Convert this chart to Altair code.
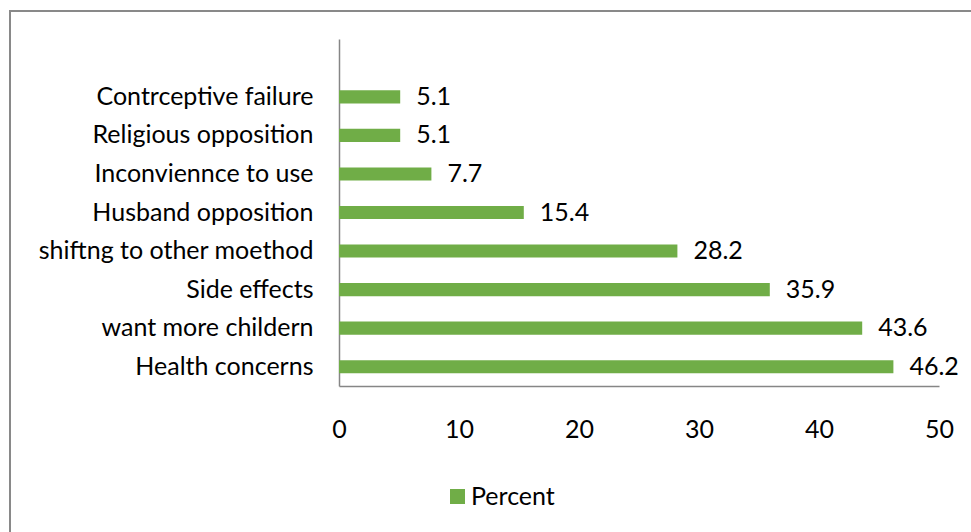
import altair as alt
import pandas as pd

categories = [
    "Contrceptive failure",
    "Religious opposition",
    "Inconviennce to use",
    "Husband opposition",
    "shiftng to other moethod",
    "Side effects",
    "want more childern",
    "Health concerns\u00a0",
]
values = [5.1, 5.1, 7.7, 15.4, 28.2, 35.9, 43.6, 46.2]
series_name = "Percent"
x_ticks = [0, 10, 20, 30, 40, 50]

df = pd.DataFrame({"category": categories, "value": values, "series": [series_name] * len(categories)})

FONT = "Lato"
FS = 25
GREEN = "#70AD47"
GREY = "#868686"

y_domain = [""] + categories

x_enc = alt.X(
    "value:Q",
    scale=alt.Scale(domain=[0, 50]),
    axis=alt.Axis(values=x_ticks, title=None, grid=False, ticks=False,
                  domainColor=GREY, domainWidth=1.5, labelFont=FONT,
                  labelFontSize=FS, labelPadding=31, labelColor="black",
                  labelFlush=False),
)
y_enc = alt.Y(
    "category:N",
    scale=alt.Scale(domain=y_domain, paddingInner=0.66, paddingOuter=0.33),
    axis=alt.Axis(title=None, ticks=False, grid=False, domainColor=GREY,
                  domainWidth=1.5, labelFont=FONT, labelFontSize=FS,
                  labelPadding=26, labelColor="black", labelLimit=400),
)

border = alt.Chart(pd.DataFrame({"k": [0]})).mark_rect(
    fill="white", fillOpacity=0, stroke="#898989", strokeWidth=2
).encode(x=alt.value(-329), y=alt.value(-28), x2=alt.value(800), y2=alt.value(800))

bars = alt.Chart(df).mark_bar().encode(
    x=x_enc,
    y=y_enc,
    color=alt.Color(
        "series:N",
        scale=alt.Scale(domain=[series_name], range=[GREEN]),
        legend=alt.Legend(title=None, orient="none", legendX=106, legendY=445,
                          symbolType="square", symbolSize=225, symbolStrokeWidth=0,
                          labelFont=FONT, labelFontSize=FS, labelOffset=1,
                          labelColor="black", padding=0),
    ),
)

text = alt.Chart(df).mark_text(
    align="left", baseline="middle", dx=16, font=FONT, fontSize=FS, color="black"
).encode(x="value:Q", y=alt.Y("category:N"), text=alt.Text("value:Q", format=".1f"))

chart = alt.layer(border, bars, text).properties(
    width=600, height=347,
    padding={"left": 339, "top": 39, "right": 32, "bottom": 146},
    autosize="none",
).configure_view(strokeWidth=0)

chart.save("out.html", embed_options={"renderer": "svg", "actions": False})
